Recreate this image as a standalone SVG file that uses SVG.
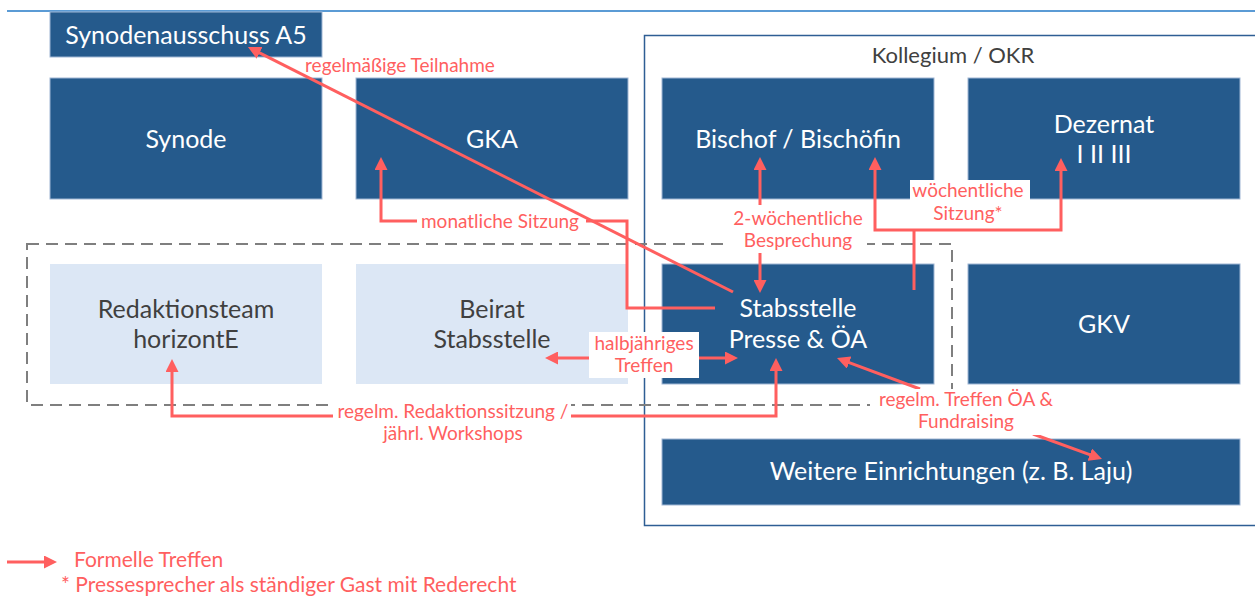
<svg xmlns="http://www.w3.org/2000/svg" width="1255" height="599" viewBox="0 0 1255 599">
  <defs>
    <style>
      .box{fill:#255A8C;stroke:#9FB6D4;stroke-width:1}
      .lbox{fill:#DCE7F5}
      .bt{font-family:Lato,"Liberation Sans",sans-serif;font-size:25px;fill:#FFFFFF;text-anchor:middle}
      .lt{font-family:Lato,"Liberation Sans",sans-serif;font-size:25px;fill:#404040;text-anchor:middle}
      .rl{font-family:Lato,"Liberation Sans",sans-serif;font-size:19px;fill:#FF5F5F;text-anchor:middle}
      .conn{fill:none;stroke:#FF5F5F;stroke-width:3}
      .bg{fill:#FFFFFF}
      .dash{fill:none;stroke:#7F7F7F;stroke-width:2;stroke-dasharray:12 7}
    </style>
    <marker id="ah" markerUnits="userSpaceOnUse" markerWidth="13" markerHeight="13" viewBox="0 0 13 13" refX="5" refY="6.5" orient="auto-start-reverse">
      <path d="M0,0 L13,6.5 L0,13 Z" fill="#FF5F5F"/>
    </marker>
  </defs>

  <!-- header rule -->
  <line x1="7" y1="11" x2="1255" y2="11" stroke="#5B9BD5" stroke-width="2"/>

  <!-- Kollegium / OKR frame -->
  <g id="kollegium">
    <rect x="644.5" y="35.5" width="640" height="490" fill="none" stroke="#2E5E94" stroke-width="1.5"/>
    <text x="953" y="63" font-family="Lato,'Liberation Sans',sans-serif" font-size="22" fill="#404040" text-anchor="middle">Kollegium / OKR</text>
  </g>

  <g id="synodenausschuss">
    <rect class="box" x="50" y="12" width="272" height="45"/>
    <text class="bt" x="186" y="44">Synodenausschuss A5</text>
  </g>
  <g id="synode">
    <rect class="box" x="50" y="78" width="272" height="121"/>
    <text class="bt" x="186" y="148">Synode</text>
  </g>
  <g id="gka">
    <rect class="box" x="356" y="78" width="272" height="121"/>
    <text class="bt" x="492" y="148">GKA</text>
  </g>
  <g id="bischof">
    <rect class="box" x="662" y="78" width="272" height="121"/>
    <text class="bt" x="798" y="148">Bischof / Bischöfin</text>
  </g>
  <g id="dezernat">
    <rect class="box" x="968" y="78" width="272" height="121"/>
    <text class="bt" x="1104" y="133">Dezernat</text>
    <text class="bt" x="1104" y="163">I II III</text>
  </g>
  <g id="redaktionsteam">
    <rect class="lbox" x="50" y="264" width="272" height="120"/>
    <text class="lt" x="186" y="318">Redaktionsteam</text>
    <text class="lt" x="186" y="348">horizontE</text>
  </g>
  <g id="beirat">
    <rect class="lbox" x="356" y="264" width="272" height="120"/>
    <text class="lt" x="492" y="318">Beirat</text>
    <text class="lt" x="492" y="348">Stabsstelle</text>
  </g>
  <g id="stabsstelle">
    <rect class="box" x="662" y="264" width="272" height="120"/>
    <text class="bt" x="798" y="317">Stabsstelle</text>
    <text class="bt" x="798" y="348">Presse &amp; ÖA</text>
  </g>
  <g id="gkv">
    <rect class="box" x="968" y="264" width="272" height="120"/>
    <text class="bt" x="1104" y="333">GKV</text>
  </g>
  <g id="weitere">
    <rect class="box" x="662" y="439" width="578" height="66"/>
    <text class="bt" x="951" y="480">Weitere Einrichtungen (z. B. Laju)</text>
  </g>

  <!-- Stabsstelle working group -->
  <rect class="dash" x="27" y="244" width="925" height="161"/>

  <g id="connectors">
    <!-- monthly meeting with GKA -->
    <path class="conn" d="M715,308 H627 V221 H381 V165" marker-end="url(#ah)"/>
    <!-- fortnightly meeting with bishop -->
    <path class="conn" d="M760,165 V285" marker-start="url(#ah)" marker-end="url(#ah)"/>
    <!-- weekly session -->
    <path class="conn" d="M914,290 V230"/>
    <path class="conn" d="M875,165 V230 H1061 V166" marker-start="url(#ah)" marker-end="url(#ah)"/>
    <!-- half-yearly meeting with the advisory board -->
    <path class="conn" d="M553,358 H730" marker-start="url(#ah)" marker-end="url(#ah)"/>
    <!-- editorial meetings -->
    <path class="conn" d="M172,367 V416 H776 V366" marker-start="url(#ah)" marker-end="url(#ah)"/>
    <!-- PR & fundraising meetings -->
    <path class="conn" d="M920,389 L844.5,360.8" marker-end="url(#ah)"/>
    <path class="conn" d="M1033,434 L1094.5,456.3" marker-end="url(#ah)"/>

    <!-- label backgrounds -->
    <rect class="bg" x="417" y="213" width="169" height="23"/>
    <rect class="bg" x="729" y="205" width="138" height="48"/>
    <rect class="bg" x="910" y="180" width="120" height="47"/>
    <rect class="bg" x="589" y="332" width="110" height="46"/>
    <rect class="bg" x="333" y="398" width="238" height="48"/>
    <rect class="bg" x="870" y="389" width="190" height="46"/>

    <!-- regular attendance at the synod committee -->
    <path class="conn" d="M733,292 L255.1,50.6" marker-end="url(#ah)"/>

    <text class="rl" x="400" y="72">regelmäßige Teilnahme</text>
    <text class="rl" x="500" y="228">monatliche Sitzung</text>
    <text class="rl" x="798" y="225">2-wöchentliche</text>
    <text class="rl" x="798" y="247">Besprechung</text>
    <text class="rl" x="968" y="197">wöchentliche</text>
    <text class="rl" x="968" y="220">Sitzung*</text>
    <text class="rl" x="644" y="350">halbjähriges</text>
    <text class="rl" x="644" y="372">Treffen</text>
    <text class="rl" x="453" y="418">regelm. Redaktionssitzung /</text>
    <text class="rl" x="453" y="440">jährl. Workshops</text>
    <text class="rl" x="966" y="406">regelm. Treffen ÖA &amp;</text>
    <text class="rl" x="966" y="428">Fundraising</text>
  </g>

  <!-- legend -->
  <g id="legend">
    <path class="conn" d="M7,562 H49" marker-end="url(#ah)"/>
    <text x="74" y="567" font-family="Lato,'Liberation Sans',sans-serif" font-size="21" fill="#FF5F5F">Formelle Treffen</text>
    <text x="61" y="592" font-family="Lato,'Liberation Sans',sans-serif" font-size="21" fill="#FF5F5F">* Pressesprecher als ständiger Gast mit Rederecht</text>
  </g>
</svg>
